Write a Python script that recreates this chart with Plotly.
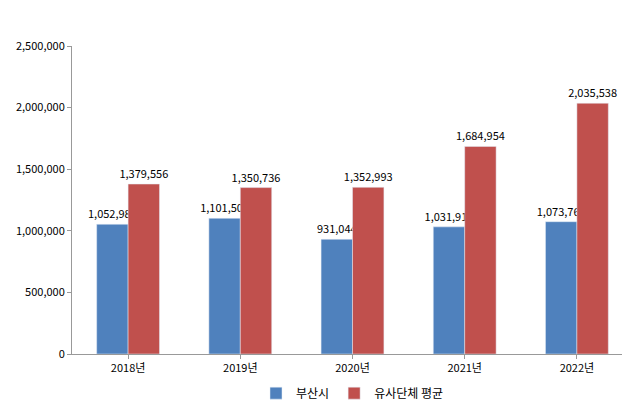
import plotly.graph_objects as go

years = ["2018년", "2019년", "2020년", "2021년", "2022년"]
busan = [1052983, 1101501, 931044, 1031914, 1073768]
similar = [1379556, 1350736, 1352993, 1684954, 2035538]

font = "Noto Sans CJK KR"
fig = go.Figure()
fig.add_bar(x=years, y=busan, name="부산시", marker_color="#4F81BD",
            text=[f"{v:,}" for v in busan], textposition="outside", constraintext="none",
            textfont=dict(size=11, color="#000"), cliponaxis=False)
fig.add_bar(x=years, y=similar, name="유사단체 평균", marker_color="#C0504D",
            text=[f"{v:,}" for v in similar], textposition="outside", constraintext="none",
            textfont=dict(size=11, color="#000"), cliponaxis=False)
fig.update_layout(
    width=630, height=410, margin=dict(l=64, r=5, t=38, b=64),
    paper_bgcolor="white", plot_bgcolor="white",
    font=dict(family=font, size=11, color="#000"),
    barmode="group", bargap=0.44, bargroupgap=0,
    legend=dict(orientation="h", x=0.5, xanchor="center", y=-0.08, yanchor="top",
                font=dict(size=12)),
    yaxis=dict(range=[0, 2500000], dtick=500000, tickformat=",d", showgrid=False,
               showline=True, linecolor="#999", ticks="outside", tickcolor="#999", ticklen=4),
    xaxis=dict(showline=True, linecolor="#999", ticks="outside", tickcolor="#999", ticklen=4),
)
fig.write_html("out.html")
